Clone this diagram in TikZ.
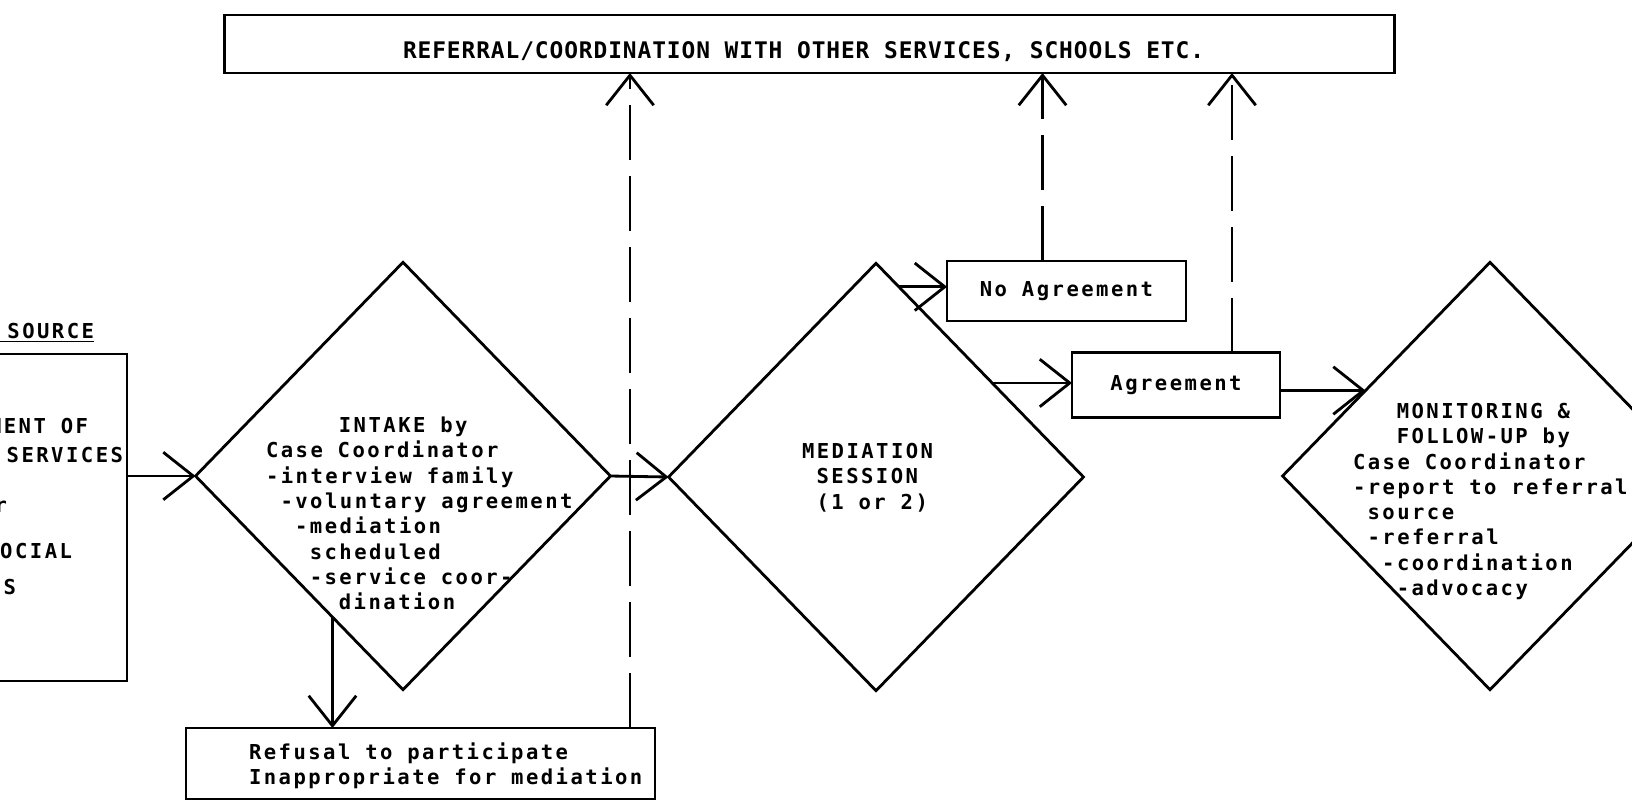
\documentclass[tikz,border=0pt]{standalone}
\usepackage{fontspec}
\usepackage{tikz}
\usetikzlibrary{arrows.meta,positioning,shapes.geometric,calc}
\newfontfamily\typefont[LetterSpace=12]{DejaVu Sans Mono}
\newfontfamily\capsfont[LetterSpace=4]{DejaVu Sans Mono}
\newcommand{\indt}{\hspace*{8.3pt}}

\begin{document}
\begin{tikzpicture}[
    x=0.02cm, y=-0.02cm,
    every node/.style={font=\typefont\bfseries\fontsize{11.7}{14.4}\selectfont, inner sep=0pt, outer sep=0pt},
    box/.style={draw, rectangle, line width=1.6pt},
    decision/.style={draw, diamond, line width=1.6pt, minimum width=8.3cm, minimum height=8.55cm},
    txt/.style={align=left, anchor=west},
    arr/.style={line width=1.6pt, -{Straight Barb[length=6mm, width=9.5mm]}},
    back/.style={arr, dash pattern=on 1.1cm off 0.32cm},
    line width=1.6pt
  ]
  \useasboundingbox (0,0) rectangle (1632,802);
  \clip (0,0) rectangle (1632,802);
  \fill[white] (0,0) rectangle (1632,802);

  \node[box, minimum width=23.42cm, minimum height=1.16cm] (refer) at (809.5,44) {};
  \node[anchor=west, font=\capsfont\bfseries\fontsize{13}{16}\selectfont] (refertxt) at (403,52) {REFERRAL/COORDINATION WITH OTHER SERVICES, SCHOOLS ETC.};

  \node[box, minimum width=3.34cm, minimum height=6.54cm] (src) at (43.5,517.5) {};
  \node[anchor=east] (srchead) at (94,333) {\underline{\ SOURCE}};
  \node[anchor=east] (src1) at (88,426) {MENT OF};
  \node[anchor=east] (src2) at (123,455) {SERVICES};
  \node[anchor=east] (src3) at (7,507) {or};
  \node[anchor=east] (src4) at (72,551) {SOCIAL};
  \node[anchor=east] (src5) at (16,587) {ES};

  \node[decision] (intake) at (403,476) {};
  \node[txt] (intaketxt) at (266,513.5) {\indt\indt\indt\indt\indt INTAKE by\\Case Coordinator\\-interview family\\\indt-voluntary agreement\\\indt\indt-mediation\\\indt\indt\indt scheduled\\\indt\indt\indt-service coor-\\\indt\indt\indt\indt\indt dination};

  \node[decision] (med) at (876,477) {};
  \node[txt] (medtxt) at (802,477.5) {MEDIATION\\\indt SESSION\\\indt(1 or 2)};

  \node[decision] (mon) at (1490,476) {};
  \node[txt] (montxt) at (1353,501.5) {\indt\indt\indt MONITORING \&\\\indt\indt\indt FOLLOW-UP by\\Case Coordinator\\-report to referral\\\indt source\\\indt-referral\\\indt\indt-coordination\\\indt\indt\indt-advocacy};

  \node[box, minimum width=4.78cm, minimum height=1.2cm] (nag) at (1066.5,291) {No Agreement};
  \node[box, minimum width=4.16cm, minimum height=1.3cm] (agr) at (1176,385) {Agreement};

  \node[box, minimum width=9.38cm, minimum height=1.42cm] (ref) at (420.5,763.5) {};
  \node[txt] (reftxt) at (249,765.5) {Refusal to participate\\Inappropriate for mediation};

  \coordinate (drop) at ($(intake.west)!0.66!(intake.south)$);
  \coordinate (noexit) at ($(med.north)!0.11!(med.east)$);
  \coordinate (agexit) at ($(med.north)!0.56!(med.east)$);
  \coordinate (monin) at ($(mon.west)!0.40!(mon.north)$);
  \coordinate (refup) at ([xshift=-0.5cm]ref.north east);
  \coordinate (nagup) at ([xshift=-0.48cm]nag.north);
  \coordinate (agrup) at ([xshift=1.12cm]agr.north);

  \draw[arr] (intake.west -| src.east) -- (intake.west);
  \draw[arr] (intake.east) -- (med.west);
  \draw[arr] (drop) -- (drop |- ref.north);
  \draw[arr] (noexit) -- (noexit -| nag.west);
  \draw[arr] (agexit) -- (agexit -| agr.west);
  \draw[arr] (monin -| agr.east) -- (monin);
  \draw[back] (refup) -- (refup |- refer.south);
  \draw[back] (nagup) -- (nagup |- refer.south);
  \draw[back] (agrup) -- (agrup |- refer.south);
\end{tikzpicture}
\end{document}
